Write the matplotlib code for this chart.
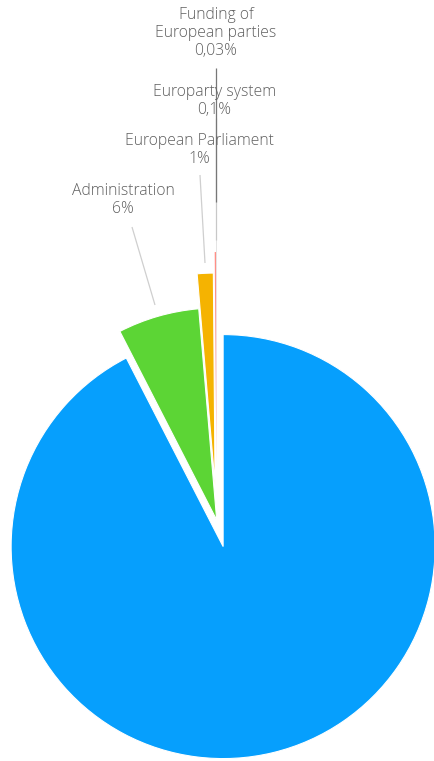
import matplotlib
matplotlib.use("Agg")
import matplotlib.pyplot as plt

# ---- data ----
categories = ["Other", "Administration", "European Parliament",
              "Europarty system", "Funding of European parties"]
values = [92.45, 6.2, 1.22, 0.1, 0.03]
value_labels = ["", "6%", "1%", "0,1%", "0,03%"]
label_names = ["", "Administration", "European Parliament",
               "Europarty system", "Funding of\nEuropean parties"]
colors = ["#069ffd", "#5cd535", "#f5b301", "#ff8f87", "#b0b0b0"]
explode = [0.129, 0.0, 0.165, 0.264, 0.45]

W, H = 435, 761
R_PX = 212.0
CX, CY = 216.7, 520.0


def P(x, y):
    """layout helper: pixel position (from top-left) -> data coords"""
    return (x - CX) / R_PX, (CY - y) / R_PX


fig = plt.figure(figsize=(W / 100, H / 100), dpi=100)
ax = fig.add_axes([0, 0, 1, 1])

wedges, _ = ax.pie(values, colors=colors, explode=explode, startangle=90,
                   counterclock=False, radius=1.0, center=(0, 0),
                   wedgeprops=dict(edgecolor="white", linewidth=0.8))
for w in wedges[3:]:
    w.set_linewidth(0)

ax.set_xlim(-CX / R_PX, (W - CX) / R_PX)
ax.set_ylim(-(H - CY) / R_PX, CY / R_PX)
ax.set_aspect("auto")
ax.axis("off")

# leader lines (layout)
leaders = {
    1: ((132, 227), (155, 305), "#cfcfcf"),
    2: ((200, 175), (205, 263), "#cfcfcf"),
    3: ((216.5, 118), (216.5, 240), "#c8c8c8"),
    4: ((216.5, 68), (216.5, 202), "#777777"),
}
for i, (a, b, c) in leaders.items():
    (x0, y0), (x1, y1) = P(*a), P(*b)
    ax.plot([x0, x1], [y0, y1], color=c, lw=0.9, solid_capstyle="butt")

# labels (layout)
label_pos = {1: (123, 200), 2: (199, 150), 3: (214.5, 101), 4: (216, 33)}
fam = ["Open Sans", "DejaVu Sans"]
for i, (x, y) in label_pos.items():
    tx, ty = P(x, y)
    ax.text(tx, ty, label_names[i] + "\n" + value_labels[i], ha="center",
            va="center", fontsize=11.3, color="#5f5f5f", family=fam,
            fontweight="light", linespacing=1.2)

fig.savefig("out.png", dpi=100, facecolor="white")
